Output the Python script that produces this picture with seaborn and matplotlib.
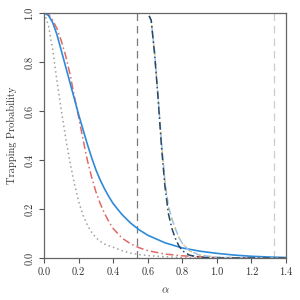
import pandas as pd
import matplotlib
matplotlib.use("Agg")
import matplotlib.pyplot as plt
import seaborn as sns

# alpha grid for the slowly decaying curves
alpha = [0.0, 0.025, 0.05, 0.075, 0.1, 0.125, 0.15, 0.175, 0.2, 0.225, 0.25, 0.275,
         0.3, 0.325, 0.35, 0.375, 0.4, 0.45, 0.5, 0.55, 0.6, 0.7, 0.8, 0.9, 1.0, 1.1,
         1.2, 1.3, 1.4]
p_blue = [1.0, 0.99, 0.96, 0.91, 0.845, 0.78, 0.715, 0.65, 0.585, 0.525, 0.465, 0.41,
          0.36, 0.318, 0.282, 0.25, 0.222, 0.178, 0.143, 0.115, 0.093, 0.062, 0.041,
          0.028, 0.019, 0.012, 0.007, 0.004, 0.002]
p_red = [1.0, 0.995, 0.97, 0.935, 0.885, 0.825, 0.75, 0.66, 0.575, 0.485, 0.40, 0.33,
         0.27, 0.222, 0.182, 0.148, 0.12, 0.082, 0.058, 0.042, 0.03, 0.016, 0.009,
         0.005, 0.002, 0.001, 0.0, 0.0, 0.0]
p_gray = [1.0, 0.95, 0.85, 0.72, 0.60, 0.49, 0.39, 0.305, 0.23, 0.175, 0.135, 0.105,
          0.083, 0.068, 0.057, 0.05, 0.044, 0.03, 0.02, 0.014, 0.01, 0.005, 0.002,
          0.001, 0.0, 0.0, 0.0, 0.0, 0.0]

# alpha grid for the steep curves
alpha_steep = [0.0, 0.55, 0.6, 0.62, 0.64, 0.66, 0.68, 0.7, 0.72, 0.74, 0.76, 0.78,
               0.8, 0.84, 0.9, 1.0, 1.2, 1.4]
p_dark = [1.0, 1.0, 1.0, 0.97, 0.83, 0.65, 0.45, 0.29, 0.18, 0.12, 0.08, 0.05,
          0.03, 0.012, 0.003, 0.0, 0.0, 0.0]
p_light = [1.0, 1.0, 1.0, 0.97, 0.84, 0.66, 0.47, 0.31, 0.21, 0.16, 0.12, 0.085,
           0.06, 0.03, 0.012, 0.003, 0.0, 0.0]
p_gold = [1.0, 1.0, 1.0, 0.97, 0.84, 0.66, 0.47, 0.31, 0.21, 0.16, 0.12, 0.085,
          0.06, 0.03, 0.012, 0.003, 0.0, 0.0]

# thresholds (vertical lines)
thresholds = [0.54, 4 / 3]

sns.set_style("ticks")
plt.rcParams["font.family"] = ["cmr10", "DejaVu Serif"]
plt.rcParams["mathtext.fontset"] = "cm"
plt.rcParams["axes.formatter.use_mathtext"] = True

fig = plt.figure(figsize=(3, 3), dpi=100)
ax = fig.add_axes([0.147, 0.14, 0.806, 0.817])

ax.axvline(thresholds[0], color="#7a7a7a", lw=0.9, ls=(0, (6, 4)))
ax.axvline(thresholds[1], color="#cccccc", lw=0.9, ls=(0, (6, 4)))

sns.lineplot(x=alpha, y=p_gray, ax=ax, color="#a0a0a0", lw=1.1, ls=(0, (1, 2)))
sns.lineplot(x=alpha, y=p_red, ax=ax, color="#e06a64", lw=1.1, ls=(0, (5, 2, 1, 2)))
sns.lineplot(x=alpha, y=p_blue, ax=ax, color="#2f8ad8", lw=1.2)
sns.lineplot(x=alpha_steep, y=p_light, ax=ax, color="#9cc2e6", lw=1.1, ls=(0, (5, 2)))
sns.lineplot(x=alpha_steep, y=p_gold, ax=ax, color="#f0c23c", lw=1.0, ls=(0, (1, 6)))
sns.lineplot(x=alpha_steep, y=p_dark, ax=ax, color="#27466a", lw=1.1, ls=(0, (5, 2, 1, 2)))

ax.set_xlim(0, 1.4)
ax.set_ylim(0, 1.0)
ax.set_xticks([0.0, 0.2, 0.4, 0.6, 0.8, 1.0, 1.2, 1.4])
ax.set_yticks([0.0, 0.2, 0.4, 0.6, 0.8, 1.0])
ax.set_xticklabels(["0.0", "0.2", "0.4", "0.6", "0.8", "1.0", "1.2", "1.4"])
ax.set_yticklabels(["0.0", "0.2", "0.4", "0.6", "0.8", "1.0"], rotation=90, va="center")
ax.tick_params(axis="both", labelsize=7.5, colors="#555555", labelcolor="#333333",
               length=3.5, width=0.8, direction="out")
for s in ax.spines.values():
    s.set_visible(True)
    s.set_color("#666666")
    s.set_linewidth(0.9)

ax.set_xlabel(r"$\alpha$", fontsize=8, color="#333333", labelpad=6)
ax.set_ylabel("Trapping Probability", fontsize=7.5, color="#333333", labelpad=6)

fig.savefig("out.png", dpi=100)
